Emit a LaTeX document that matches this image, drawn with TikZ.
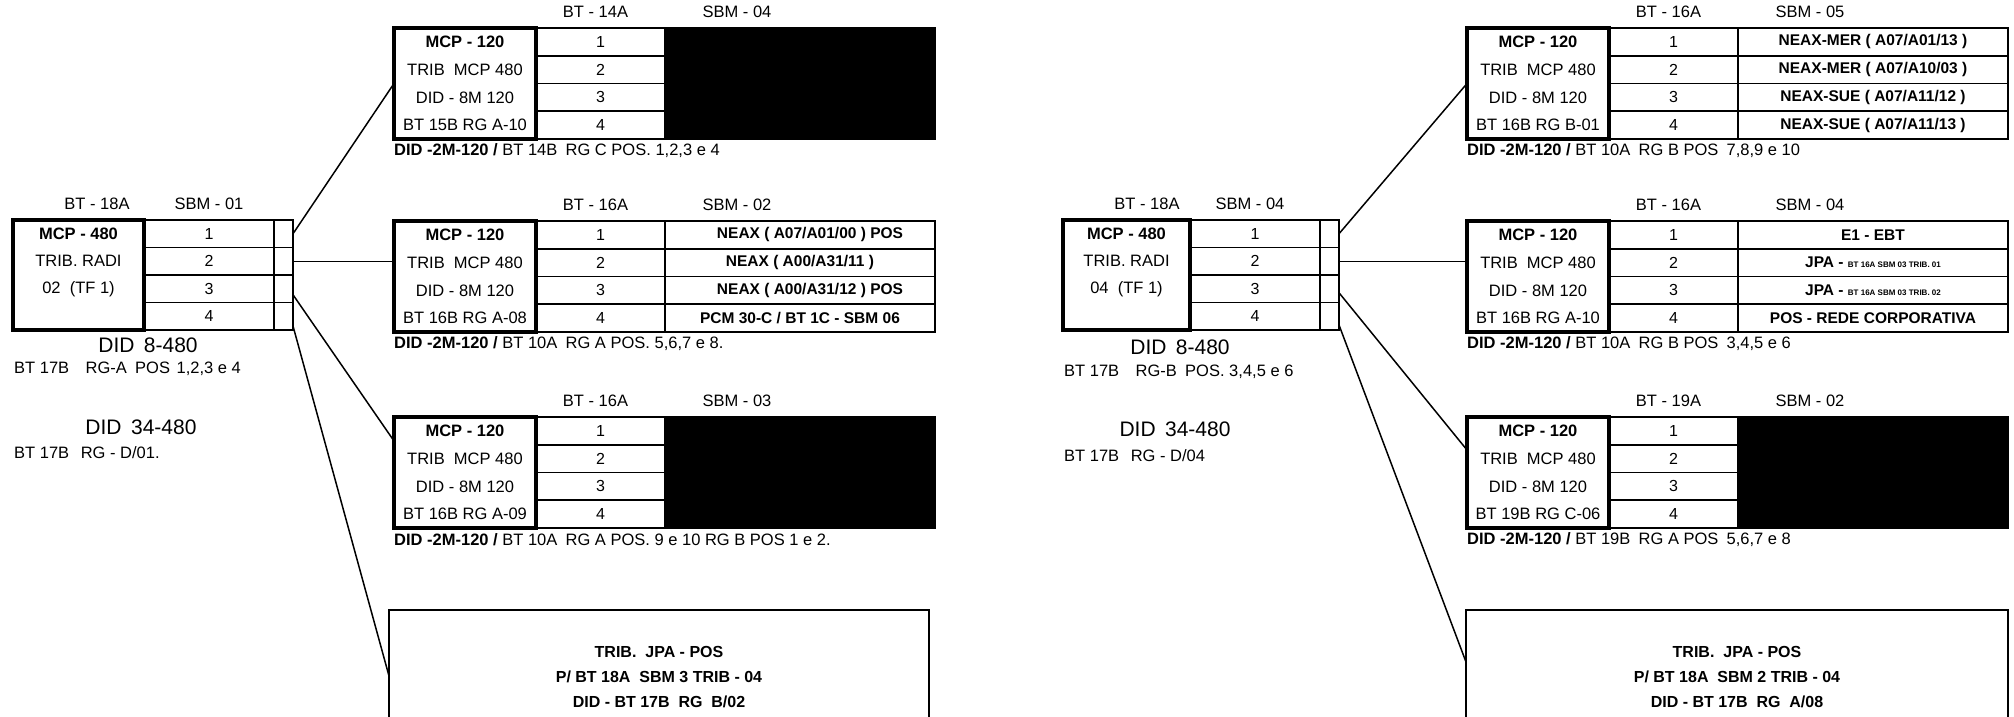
\documentclass[tikz,border=0pt]{standalone}
\usepackage{fontspec}
\setmainfont{Liberation Sans}
\usetikzlibrary{calc}
\newcommand\fsz[1]{\fontsize{#1}{#1}\selectfont}
\tikzset{
  mainbox/.style={draw, line width=4.5pt, inner sep=0pt, outer sep=0pt, anchor=north west},
  numcell/.style={draw, line width=1.8pt, inner sep=0pt, outer sep=0pt, anchor=north west, minimum width=129pt, minimum height=27.75pt, font=\fsz{16}},
  txtcell/.style={draw, line width=1.8pt, inner sep=0pt, outer sep=0pt, anchor=north west, minimum width=270pt, minimum height=27.75pt},
  celltxt/.style={inner sep=0pt, font=\bfseries\fsz{15.5}},
  srow/.style={draw, line width=1.8pt, inner sep=0pt, outer sep=0pt, anchor=north west, minimum width=130pt, minimum height=27.5pt, font=\fsz{16}},
  scell/.style={draw, line width=1.8pt, inner sep=0pt, outer sep=0pt, anchor=north west, minimum width=19pt, minimum height=27.5pt},
  boxtxt/.style={inner sep=0pt, font=\fsz{16.5}},
  boldtxt/.style={inner sep=0pt, font=\bfseries\fsz{16.5}},
  hdr/.style={inner sep=0pt, font=\fsz{16.5}},
  captxt/.style={inner sep=0pt, anchor=west, font=\fsz{16.5}},
  bigtxt/.style={inner sep=0pt, font=\fsz{21}},
  jpabox/.style={draw, line width=2.2pt, inner sep=0pt, outer sep=0pt, anchor=north west, minimum height=134pt, align=center, font=\bfseries\fsz{16}},
  conn/.style={line width=1.5pt},
}
% #1 name, #2 x, #3 y, #4 BT label, #5 SBM label, #6 fourth line of box
\newcommand\mcptab[6]{%
  \node[mainbox, minimum width=142pt, minimum height=111pt] (#1box) at (#2,#3) {};
  \node[numcell] (#1n1) at (#1box.north east) {1};
  \node[numcell] (#1n2) at (#1n1.south west) {2};
  \node[numcell] (#1n3) at (#1n2.south west) {3};
  \node[numcell] (#1n4) at (#1n3.south west) {4};
  \node[txtcell] (#1t1) at (#1n1.north east) {};
  \node[txtcell] (#1t2) at (#1n2.north east) {};
  \node[txtcell] (#1t3) at (#1n3.north east) {};
  \node[txtcell] (#1t4) at (#1n4.north east) {};
  \node[mainbox, minimum width=142pt, minimum height=111pt] (#1frame) at (#2,#3) {};
  \node[boldtxt] (#1b1) at (#1box.center |- #1n1.center) {MCP - 120};
  \node[boxtxt] (#1b2) at (#1box.center |- #1n2.center) {TRIB\ \ MCP 480};
  \node[boxtxt] (#1b3) at (#1box.center |- #1n3.center) {DID - 8M 120};
  \node[boxtxt] (#1b4) at (#1box.center |- #1n4.center) {#6};
  \node[hdr] (#1bt) at ($(#1n1.north)+(-5,-16)$) {#4};
  \node[hdr] (#1sbm) at ($(#1t1.north west)+(72,-16)$) {#5};
}
\begin{document}
\begin{tikzpicture}[x=1pt,y=-1pt]
\useasboundingbox[fill=white] (0,0) rectangle (2014,717);

% ---------------- LEFT GROUP ----------------
\node[mainbox, minimum width=131pt, minimum height=110pt] (Sbox) at (13,220) {};
\node[srow] (Sr1) at (Sbox.north east) {1};
\node[srow] (Sr2) at (Sr1.south west) {2};
\node[srow] (Sr3) at (Sr2.south west) {3};
\node[srow] (Sr4) at (Sr3.south west) {4};
\node[scell] (Ss1) at (Sr1.north east) {};
\node[scell] (Ss2) at (Sr2.north east) {};
\node[scell] (Ss3) at (Sr3.north east) {};
\node[scell] (Ss4) at (Sr4.north east) {};
\node[mainbox, minimum width=131pt, minimum height=110pt] (Sframe) at (13,220) {};
\node[boldtxt] (Sb1) at (Sbox.center |- Sr1.center) {MCP - 480};
\node[boxtxt] (Sb2) at (Sbox.center |- Sr2.center) {TRIB. RADI};
\node[boxtxt] (Sb3) at (Sbox.center |- Sr3.center) {02\ \ (TF 1)};
\node[hdr] (Sbt) at (97,204) {BT - 18A};
\node[hdr] (Ssbm) at (209,204) {SBM - 01};
\node[bigtxt] (Sdid8) at (148,345) {DID\hspace{0.45em}8-480};
\node[captxt] (Spos) at (14,369) {BT 17B\hspace{1em}RG-A\hspace{0.5em}POS\hspace{0.4em}1,2,3 e 4};
\node[bigtxt] (Sdid34) at (141,427) {DID\hspace{0.45em}34-480};
\node[captxt] (Sd01) at (14,453) {BT 17B\hspace{0.7em}RG - D/01.};

\mcptab{L1}{394}{28}{BT - 14A}{SBM - 04}{BT 15B RG A-10}
\fill[black] (L1t1.north west) rectangle (L1t4.south east);
\node[captxt] (L1cap) at ($(L1box.south west)+(0,12)$) {\textbf{DID -2M-120 /} BT 14B\hspace{0.5em}RG C POS. 1,2,3 e 4};

\mcptab{L2}{394}{221}{BT - 16A}{SBM - 02}{BT 16B RG A-08}
\node[celltxt] (L2x1) at ($(L2t1.center)+(10,0)$) {NEAX ( A07/A01/00 ) POS};
\node[celltxt] (L2x2) at ($(L2t2.center)+(0,0)$) {NEAX ( A00/A31/11 )};
\node[celltxt] (L2x3) at ($(L2t3.center)+(10,0)$) {NEAX ( A00/A31/12 ) POS};
\node[celltxt] (L2x4) at (L2t4.center) {PCM 30-C / BT 1C - SBM 06};
\node[captxt] (L2cap) at ($(L2box.south west)+(0,12)$) {\textbf{DID -2M-120 /} BT 10A\hspace{0.5em}RG A POS. 5,6,7 e 8.};

\mcptab{L3}{394}{417}{BT - 16A}{SBM - 03}{BT 16B RG A-09}
\fill[black] (L3t1.north west) rectangle (L3t4.south east);
\node[captxt] (L3cap) at ($(L3box.south west)+(0,12)$) {\textbf{DID -2M-120 /} BT 10A\hspace{0.5em}RG A POS. 9 e 10 RG B POS 1 e 2.};

\node[jpabox, minimum width=540pt] (LJ) at (389,610) {TRIB.\ \ JPA - POS\\[9pt] P/ BT 18A\ \ SBM 3 TRIB - 04\\[9pt] DID - BT 17B\ \ RG\ \ B/02};

\draw[conn] (Ss1.east) -- (L1box.west);
\draw[conn] (Ss2.east) -- (Ss2.east -| L2box.west);
\draw[conn] ($(Ss3.east)+(0,6)$) -- ($(L3box.north west)+(0,24)$);
\draw[conn] ($(Ss4.south east)+(0,-4)$) -- ($(LJ.north west)+(0,66)$);

% ---------------- RIGHT GROUP ----------------
\node[mainbox, minimum width=127pt, minimum height=110pt] (Qbox) at (1063,220) {};
\node[srow] (Qr1) at (Qbox.north east) {1};
\node[srow] (Qr2) at (Qr1.south west) {2};
\node[srow] (Qr3) at (Qr2.south west) {3};
\node[srow] (Qr4) at (Qr3.south west) {4};
\node[scell] (Qs1) at (Qr1.north east) {};
\node[scell] (Qs2) at (Qr2.north east) {};
\node[scell] (Qs3) at (Qr3.north east) {};
\node[scell] (Qs4) at (Qr4.north east) {};
\node[mainbox, minimum width=127pt, minimum height=110pt] (Qframe) at (1063,220) {};
\node[boldtxt] (Qb1) at (Qbox.center |- Qr1.center) {MCP - 480};
\node[boxtxt] (Qb2) at (Qbox.center |- Qr2.center) {TRIB. RADI};
\node[boxtxt] (Qb3) at (Qbox.center |- Qr3.center) {04\ \ (TF 1)};
\node[hdr] (Qbt) at (1147,204) {BT - 18A};
\node[hdr] (Qsbm) at (1250,204) {SBM - 04};
\node[bigtxt] (Qdid8) at (1180,347) {DID\hspace{0.45em}8-480};
\node[captxt] (Qpos) at (1064,372) {BT 17B\hspace{1em}RG-B\hspace{0.5em}POS. 3,4,5 e 6};
\node[bigtxt] (Qdid34) at (1175,429) {DID\hspace{0.45em}34-480};
\node[captxt] (Qd04) at (1064,456) {BT 17B\hspace{0.7em}RG - D/04};

\mcptab{R1}{1467}{28}{BT - 16A}{SBM - 05}{BT 16B RG B-01}
\node[celltxt] (R1x1) at (R1t1.center) {NEAX-MER ( A07/A01/13 )};
\node[celltxt] (R1x2) at (R1t2.center) {NEAX-MER ( A07/A10/03 )};
\node[celltxt] (R1x3) at (R1t3.center) {NEAX-SUE ( A07/A11/12 )};
\node[celltxt] (R1x4) at (R1t4.center) {NEAX-SUE ( A07/A11/13 )};
\node[captxt] (R1cap) at ($(R1box.south west)+(0,12)$) {\textbf{DID -2M-120 /} BT 10A\hspace{0.5em}RG B POS\hspace{0.5em}7,8,9 e 10};

\mcptab{R2}{1467}{221}{BT - 16A}{SBM - 04}{BT 16B RG A-10}
\node[celltxt] (R2x1) at (R2t1.center) {E1 - EBT};
\node[celltxt] (R2x2) at (R2t2.center) {JPA - {\fsz{8}BT 16A SBM 03 TRIB. 01}};
\node[celltxt] (R2x3) at (R2t3.center) {JPA - {\fsz{8}BT 16A SBM 03 TRIB. 02}};
\node[celltxt] (R2x4) at (R2t4.center) {POS - REDE CORPORATIVA};
\node[captxt] (R2cap) at ($(R2box.south west)+(0,12)$) {\textbf{DID -2M-120 /} BT 10A\hspace{0.5em}RG B POS\hspace{0.5em}3,4,5 e 6};

\mcptab{R3}{1467}{417}{BT - 19A}{SBM - 02}{BT 19B RG C-06}
\fill[black] (R3t1.north west) rectangle (R3t4.south east);
\node[captxt] (R3cap) at ($(R3box.south west)+(0,12)$) {\textbf{DID -2M-120 /} BT 19B\hspace{0.5em}RG A POS\hspace{0.5em}5,6,7 e 8};

\node[jpabox, minimum width=542pt] (RJ) at (1466,610) {TRIB.\ \ JPA - POS\\[9pt] P/ BT 18A\ \ SBM 2 TRIB - 04\\[9pt] DID - BT 17B\ \ RG\ \ A/08};

\draw[conn] (Qs1.east) -- (R1box.west);
\draw[conn] (Qs2.east) -- (Qs2.east -| R2box.west);
\draw[conn] ($(Qs3.east)+(0,4)$) -- ($(R3box.north west)+(0,33)$);
\draw[conn] ($(Qs4.south east)+(0,-5)$) -- ($(RJ.north west)+(0,52)$);
\end{tikzpicture}
\end{document}
